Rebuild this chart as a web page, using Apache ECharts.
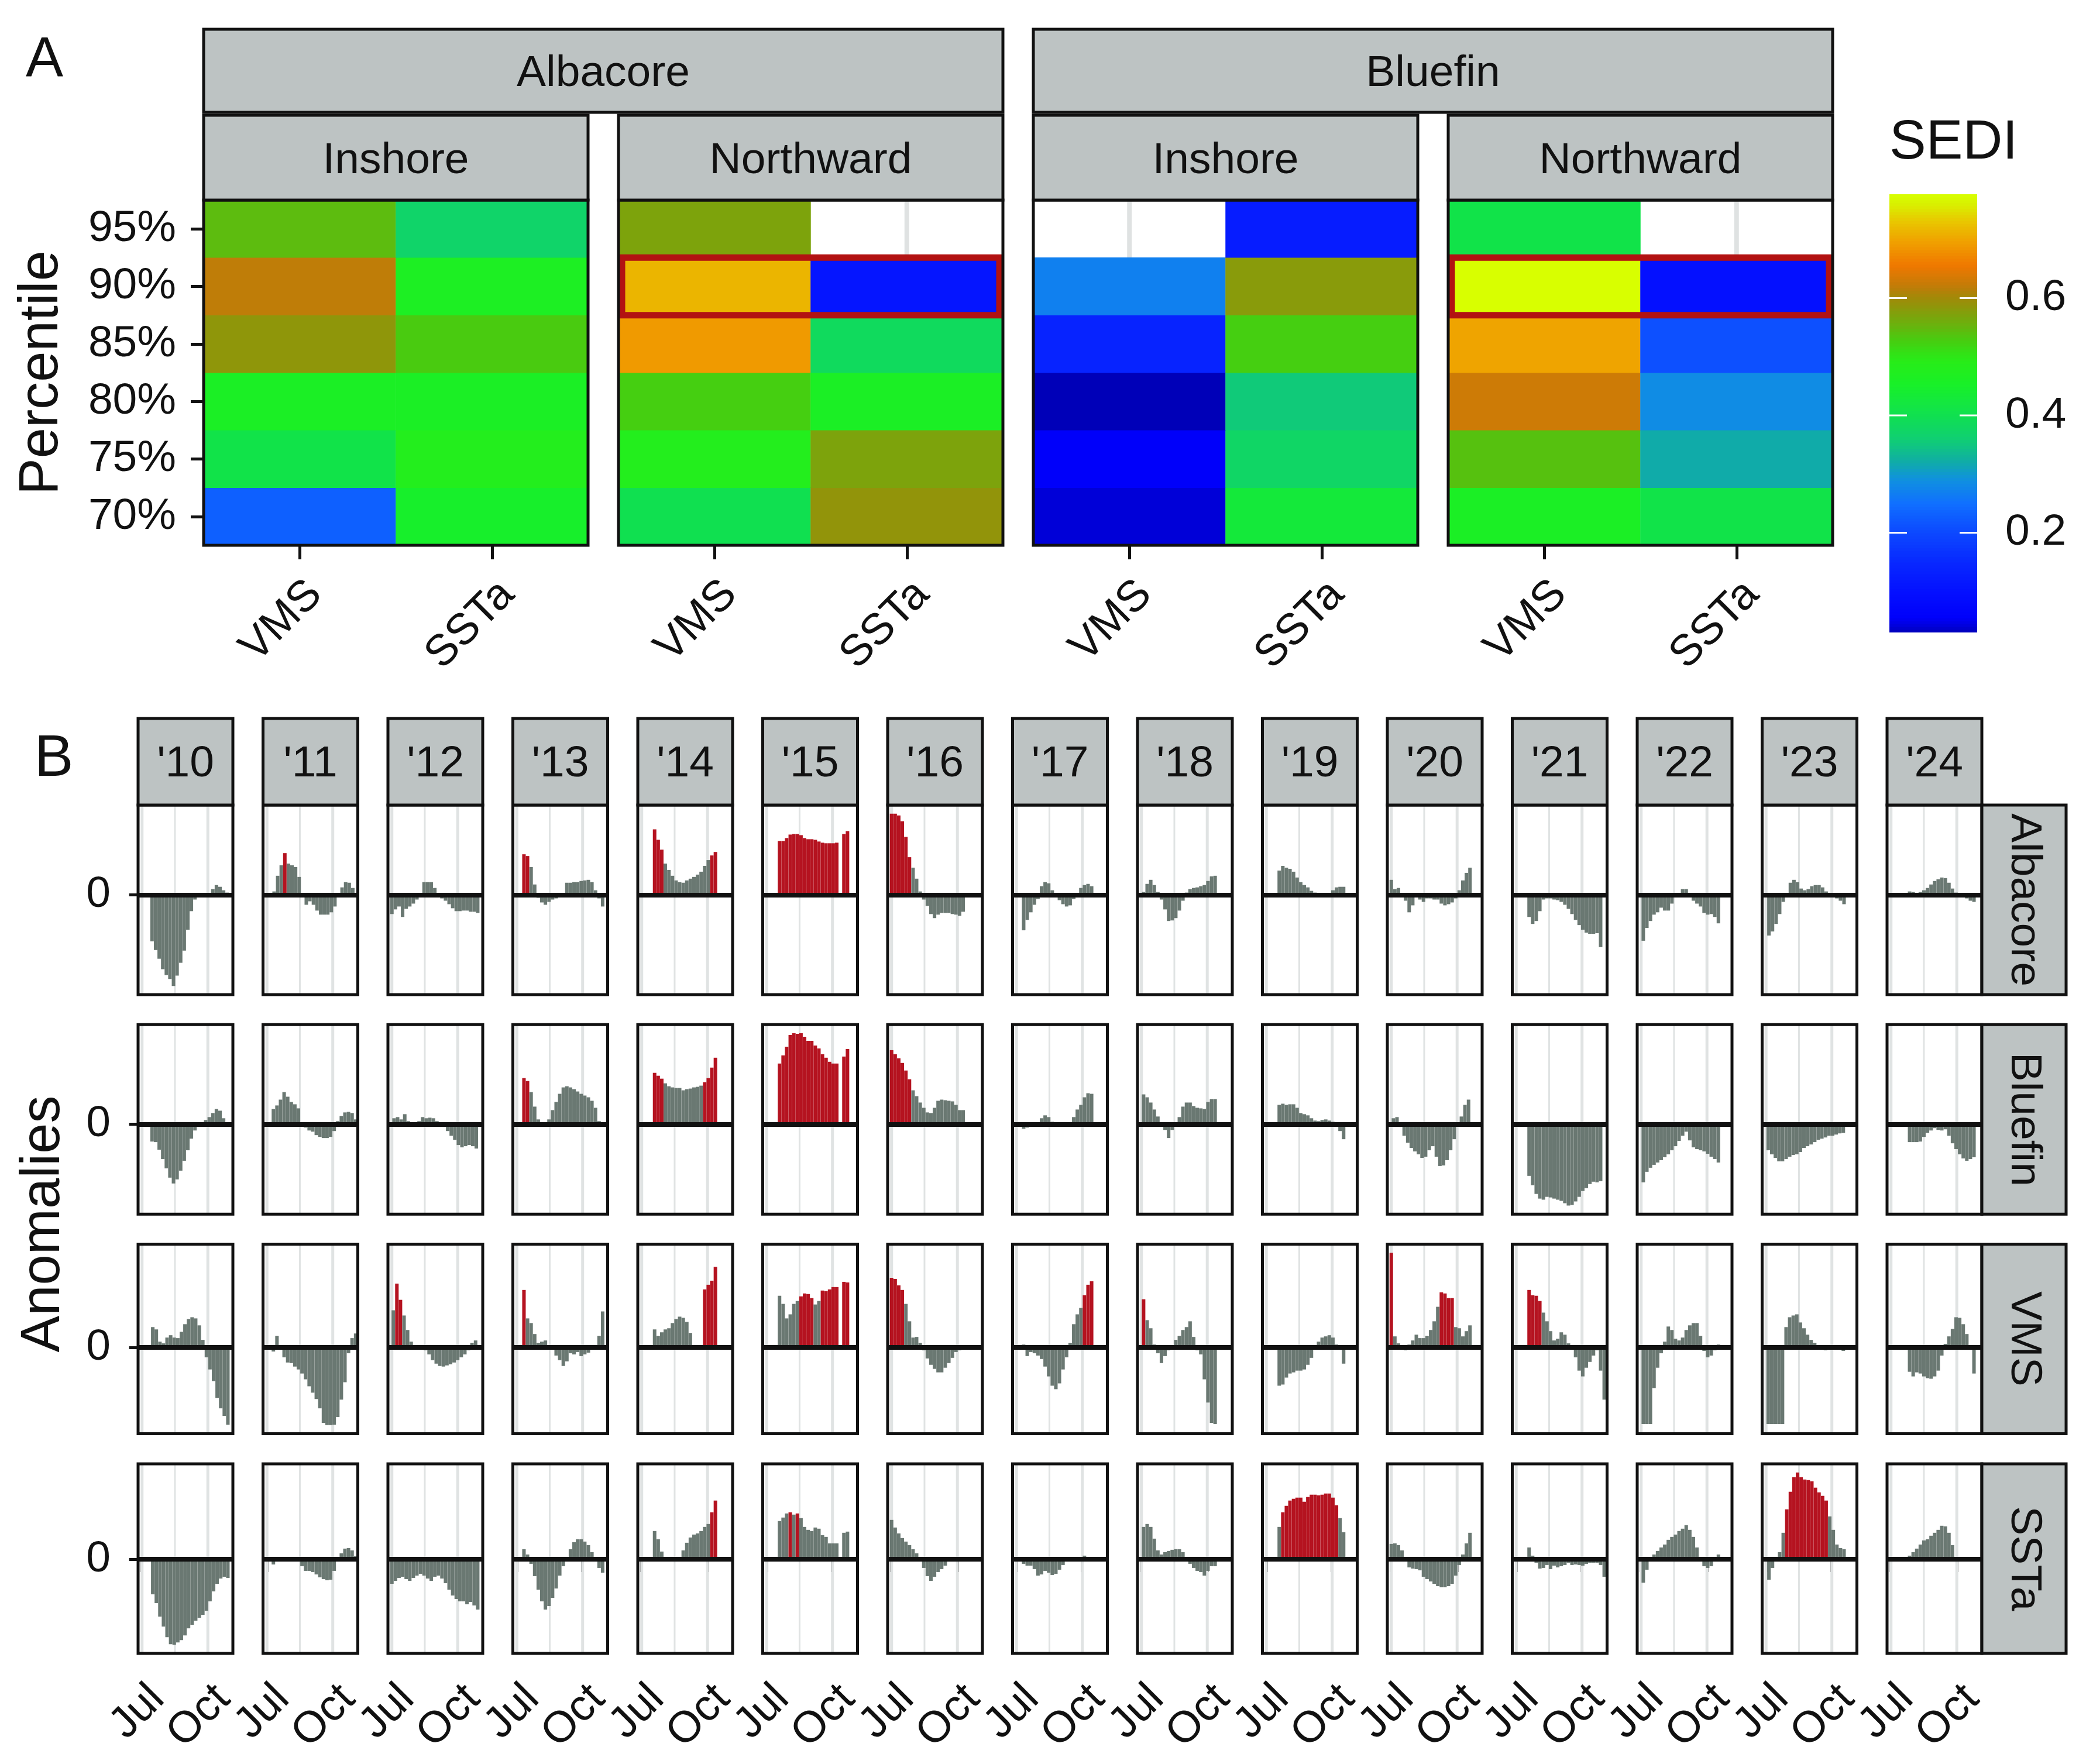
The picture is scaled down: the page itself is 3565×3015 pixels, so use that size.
<!DOCTYPE html>
<html><head><meta charset="utf-8">
<script src="https://cdn.jsdelivr.net/npm/echarts@6/dist/echarts.min.js"></script>
<style>html,body{margin:0;padding:0;background:#fff}#c{width:3565px;height:3015px}</style>
</head><body><div id="c"></div>
<script>
// ================= PANEL A DATA (SEDI) =================
const percentiles = ['70%','75%','80%','85%','90%','95%'];
const predictors = ['VMS','SSTa'];
const speciesNames = ['Albacore','Bluefin'];
const directionNames = ['Inshore','Northward'];
// values listed from 70% up to 95%; null = not available
const sediAlbInshoreVMS    = [0.23, 0.41, 0.46, 0.585, 0.62, 0.545];
const sediAlbInshoreSSTa   = [0.45, 0.48, 0.46, 0.53, 0.465, 0.37];
const sediAlbNorthVMS      = [0.40, 0.48, 0.525, 0.69, 0.715, 0.57];
const sediAlbNorthSSTa     = [0.588, 0.57, 0.46, 0.385, 0.11, null];
const sediBluInshoreVMS    = [0.04, 0.056, 0.03, 0.14, 0.27, null];
const sediBluInshoreSSTa   = [0.43, 0.375, 0.355, 0.525, 0.58, 0.125];
const sediBluNorthVMS      = [0.46, 0.54, 0.63, 0.70, 0.777, 0.41];
const sediBluNorthSSTa     = [0.41, 0.32, 0.285, 0.21, 0.10, null];
const highlightPercentile = '90%';
const highlightPanels = [1, 3];
const sediTicks = [0.2, 0.4, 0.6];
const sediMin = 0.03, sediMax = 0.777;

// ================= PANEL B DATA (anomalies, 5-day steps from start day; day 0 = Jul 1) =================
const years = ["'10","'11","'12","'13","'14","'15","'16","'17","'18","'19","'20","'21","'22","'23","'24"];
const rowNames = ['Albacore','Bluefin','VMS','SSTa'];
const dateTickDays = [0, 92];
const dateTickLabels = ['Jul','Oct'];
const gridMajorDays = [0, 92];
const gridMinorDays = [46];
const stepDays = 5;

const albacoreStart = [14,10,0,10,18,18,0,10,3,18,0,18,3,4,26];
const albacoreVals = [
 [-0.80,-0.95,-1.10,-1.28,-1.38,-1.45,-1.57,-1.39,-1.17,-0.96,-0.60,-0.28,-0.08,-0.03,-0.01,0.01,0.03,0.10,0.17,0.14,0.08,0.04],
 [0.06,0.33,0.51,0.72,0.54,0.51,0.48,0.31,0.01,-0.17,-0.11,-0.17,-0.27,-0.34,-0.34,-0.34,-0.30,-0.20,-0.04,0.13,0.22,0.21,0.12],
 [-0.33,-0.25,-0.20,-0.38,-0.24,-0.20,-0.15,-0.08,0.02,0.22,0.22,0.22,0.12,0.00,-0.06,-0.10,-0.16,-0.23,-0.28,-0.28,-0.27,-0.27,-0.29,-0.29,-0.31],
 [0.70,0.67,0.48,0.18,-0.05,-0.13,-0.17,-0.12,-0.08,-0.06,-0.04,0.01,0.21,0.21,0.22,0.22,0.24,0.25,0.26,0.22,0.08,-0.06,-0.20],
 [1.13,0.95,0.78,0.54,0.43,0.33,0.25,0.22,0.21,0.25,0.28,0.31,0.35,0.40,0.50,0.60,0.68,0.74],
 [0.93,0.93,0.98,1.04,1.05,1.05,1.03,0.98,0.96,0.96,0.95,0.92,0.90,0.89,0.89,0.89,0.90,null,1.05,1.10],
 [1.40,1.40,1.37,1.27,1.00,0.65,0.47,0.28,0.06,-0.08,-0.19,-0.33,-0.40,-0.34,-0.31,-0.31,-0.31,-0.33,-0.34,-0.36,-0.29],
 [-0.61,-0.43,-0.30,-0.17,-0.07,0.15,0.22,0.20,0.08,-0.02,-0.09,-0.16,-0.20,-0.18,-0.07,0.00,0.12,0.17,0.19,0.15],
 [0.05,0.19,0.26,0.17,0.05,-0.08,-0.25,-0.45,-0.44,-0.40,-0.27,-0.10,0.04,0.10,0.12,0.13,0.15,0.17,0.24,0.32,0.33],
 [0.42,0.50,0.47,0.45,0.40,0.30,0.22,0.17,0.13,0.07,0.04,0.02,0.01,0.00,0.03,0.08,0.13,0.14,0.14],
 [0.26,0.10,0.12,0.02,-0.10,-0.30,-0.18,-0.04,-0.08,-0.12,-0.06,-0.06,-0.08,-0.08,-0.15,-0.18,-0.16,-0.13,-0.06,0.08,0.25,0.38,0.47],
 [-0.38,-0.50,-0.45,-0.28,-0.08,-0.06,-0.06,-0.08,-0.09,-0.12,-0.17,-0.24,-0.33,-0.43,-0.52,-0.60,-0.65,-0.67,-0.67,-0.66,-0.90],
 [-0.79,-0.57,-0.45,-0.34,-0.30,-0.22,-0.27,-0.27,-0.15,-0.04,0.03,0.10,0.10,-0.02,-0.10,-0.15,-0.20,-0.31,-0.34,-0.33,-0.38,-0.49],
 [-0.70,-0.63,-0.50,-0.33,-0.12,0.03,0.21,0.26,0.22,0.11,0.08,0.10,0.15,0.17,0.17,0.13,0.06,0.00,-0.04,-0.06,-0.10,-0.16],
 [0.06,0.05,0.03,0.05,0.08,0.12,0.18,0.24,0.27,0.30,0.29,0.21,0.11,0.04,0.00,-0.02,-0.06,-0.10,-0.12]
];
const albacoreRed = [[],[3],[],[0,1],[0,1,2,16,17],[0,1,2,3,4,5,6,7,8,9,10,11,12,13,14,15,16,17,18,19],[0,1,2,3,4,5],[],[],[],[],[],[],[],[]];

const bluefinStart = [14,9,3,10,18,18,0,10,3,18,3,18,3,3,26];
const bluefinVals = [
 [-0.30,-0.31,-0.44,-0.60,-0.76,-0.92,-1.02,-0.95,-0.80,-0.63,-0.45,-0.25,-0.11,-0.02,0.02,0.07,0.12,0.19,0.26,0.23,0.10,0.02],
 [0.26,0.32,0.42,0.55,0.47,0.38,0.34,0.27,0.02,-0.06,-0.11,-0.13,-0.19,-0.22,-0.24,-0.24,-0.22,-0.12,0.05,0.14,0.20,0.21,0.19,0.08],
 [0.10,0.12,0.08,0.17,0.05,0.00,0.02,0.05,0.12,0.10,0.11,0.10,0.05,0.00,-0.05,-0.12,-0.20,-0.27,-0.36,-0.40,-0.38,-0.36,-0.38,-0.42],
 [0.79,0.74,0.55,0.30,0.08,0.00,0.02,0.08,0.24,0.38,0.52,0.63,0.65,0.63,0.60,0.56,0.52,0.49,0.46,0.40,0.28,0.05],
 [0.88,0.83,0.78,0.70,0.65,0.63,0.62,0.62,0.58,0.60,0.61,0.63,0.64,0.66,0.72,0.79,0.97,1.14],
 [1.04,1.18,1.33,1.53,1.56,1.55,1.56,1.50,1.43,1.43,1.35,1.30,1.20,1.14,1.07,1.04,1.04,null,1.16,1.29],
 [1.27,1.20,1.13,1.05,0.92,0.77,0.58,0.48,0.37,0.28,0.20,0.19,0.28,0.40,0.42,0.41,0.40,0.39,0.33,0.24,0.24],
 [-0.08,-0.06,-0.02,0.00,0.03,0.10,0.15,0.12,0.04,0.00,0.00,0.00,0.00,0.02,0.12,0.25,0.33,0.46,0.53,0.52],
 [0.51,0.46,0.37,0.25,0.13,0.02,-0.10,-0.24,-0.10,0.03,0.12,0.30,0.37,0.37,0.31,0.28,0.27,0.26,0.38,0.43,0.43],
 [0.33,0.35,0.33,0.34,0.34,0.28,0.19,0.17,0.15,0.10,0.06,0.05,0.07,0.08,0.06,0.04,-0.03,-0.12,-0.26],
 [0.10,0.12,-0.05,-0.20,-0.32,-0.41,-0.47,-0.52,-0.58,-0.56,-0.45,-0.38,-0.56,-0.72,-0.71,-0.62,-0.45,-0.26,-0.03,0.13,0.33,0.42],
 [-0.89,-1.05,-1.20,-1.28,-1.30,-1.25,-1.26,-1.28,-1.30,-1.32,-1.36,-1.40,-1.39,-1.33,-1.25,-1.15,-1.10,-1.03,-0.99,-1.00,-0.98],
 [-1.00,-0.82,-0.75,-0.70,-0.66,-0.62,-0.57,-0.52,-0.45,-0.38,-0.29,-0.20,-0.13,-0.28,-0.40,-0.43,-0.45,-0.47,-0.51,-0.56,-0.60,-0.66],
 [-0.45,-0.52,-0.58,-0.64,-0.64,-0.60,-0.56,-0.53,-0.52,-0.48,-0.41,-0.38,-0.35,-0.31,-0.27,-0.25,-0.23,-0.20,-0.20,-0.18,-0.16,-0.15],
 [-0.31,-0.31,-0.31,-0.30,-0.22,-0.15,-0.11,-0.07,-0.10,-0.11,-0.09,-0.20,-0.33,-0.43,-0.52,-0.59,-0.63,-0.60,-0.57]
];
const bluefinRed = [[],[],[],[0,1],[0,1,2,14,15,16,17],[0,1,2,3,4,5,6,7,8,9,10,11,12,13,14,15,16,17,18,19],[0,1,2,3,4,5],[],[],[],[],[],[],[],[]];

const vmsStart = [15,9,2,10,18,18,0,10,3,18,0,18,3,3,26];
const vmsVals = [
 [0.35,0.31,0.10,0.07,0.17,0.21,0.17,0.16,0.27,0.40,0.49,0.52,0.50,0.38,0.13,-0.17,-0.38,-0.58,-0.87,-1.05,-1.18,-1.33],
 [-0.07,0.20,-0.03,-0.17,-0.26,-0.27,-0.33,-0.38,-0.45,-0.55,-0.67,-0.78,-0.89,-1.05,-1.30,-1.34,-1.34,-1.33,-1.20,-0.90,-0.60,-0.10,0.16,0.24],
 [0.64,1.10,0.82,0.55,0.30,0.10,0.04,0.00,-0.02,-0.05,-0.12,-0.22,-0.28,-0.32,-0.33,-0.31,-0.29,-0.26,-0.22,-0.17,-0.12,-0.05,0.08,0.12],
 [0.99,0.50,0.42,0.23,0.08,0.10,0.12,0.02,-0.04,-0.14,-0.22,-0.32,-0.24,-0.10,-0.12,-0.08,-0.15,-0.12,-0.09,-0.04,0.00,0.20,0.62],
 [0.31,0.20,0.26,0.31,0.33,0.42,0.49,0.53,0.51,0.44,0.25,0.02,0.00,0.01,1.00,1.08,1.15,1.39],
 [0.89,0.75,0.50,0.57,0.75,0.80,0.88,0.93,0.92,0.85,0.74,0.80,0.98,0.97,1.00,1.04,1.04,null,1.13,1.12],
 [1.20,1.18,1.07,0.99,0.75,0.45,0.17,0.18,0.08,-0.05,-0.19,-0.30,-0.37,-0.43,-0.43,-0.35,-0.27,-0.18,-0.08,-0.05,0.02],
 [0.05,-0.15,-0.08,-0.10,-0.14,-0.20,-0.33,-0.50,-0.66,-0.72,-0.62,-0.38,-0.17,0.08,0.40,0.57,0.68,0.90,1.08,1.14],
 [0.83,0.47,0.33,0.05,-0.10,-0.27,-0.15,-0.05,0.04,0.13,0.20,0.30,0.35,0.45,0.18,-0.05,-0.12,-0.55,-0.95,-1.30,-1.32],
 [-0.66,-0.64,-0.52,-0.45,-0.43,-0.40,-0.40,-0.38,-0.30,-0.18,-0.03,0.10,0.17,0.19,0.21,0.17,0.05,0.02,-0.28],
 [1.63,0.19,0.07,0.04,-0.05,0.05,0.12,0.22,0.16,0.16,0.20,0.30,0.45,0.70,0.95,0.93,0.85,0.85,0.35,0.33,0.19,0.28,0.38],
 [0.99,0.90,0.89,0.80,0.60,0.45,0.28,0.12,0.15,0.26,0.22,0.07,-0.03,-0.17,-0.40,-0.50,-0.35,-0.25,-0.14,-0.05,-0.40,-0.90],
 [-1.32,-1.32,-1.32,-0.70,-0.35,-0.10,0.10,0.36,0.30,0.15,0.12,0.17,0.30,0.38,0.42,0.42,0.20,-0.06,-0.17,-0.14,-0.05,0.05],
 [-1.32,-1.32,-1.32,-1.32,-1.32,0.35,0.52,0.55,0.57,0.43,0.33,0.22,0.13,0.08,0.03,0.00,-0.05,-0.04,0.03,0.04,-0.02,-0.06],
 [-0.42,-0.50,-0.43,-0.45,-0.50,-0.53,-0.54,-0.50,-0.40,-0.14,0.06,0.19,0.32,0.52,0.51,0.40,0.23,0.02,-0.45]
];
const vmsRed = [[],[],[1,2],[0],[14,15,16,17],[6,7,8,9,12,13,14,15,16,18,19],[0,1,2,3],[17,18,19],[0],[],[0,14,15,16,17],[0,1,2,3],[],[],[]];

const sstaStart = [15,9,0,10,18,18,0,10,3,18,0,18,3,4,26];
const sstaVals = [
 [-0.60,-0.75,-0.98,-1.15,-1.33,-1.45,-1.46,-1.42,-1.38,-1.30,-1.18,-1.12,-1.05,-1.00,-0.95,-0.88,-0.72,-0.55,-0.42,-0.33,-0.30,-0.32],
 [-0.09,-0.04,-0.02,-0.01,-0.01,-0.01,-0.01,-0.03,-0.12,-0.20,-0.20,-0.22,-0.26,-0.31,-0.34,-0.36,-0.35,-0.20,-0.03,0.10,0.18,0.19,0.15,0.05],
 [-0.42,-0.37,-0.32,-0.30,-0.34,-0.37,-0.32,-0.28,-0.25,-0.28,-0.33,-0.37,-0.30,-0.28,-0.33,-0.41,-0.52,-0.62,-0.68,-0.72,-0.72,-0.77,-0.73,-0.79,-0.86],
 [0.17,0.08,-0.08,-0.29,-0.52,-0.72,-0.86,-0.80,-0.66,-0.50,-0.28,-0.12,0.03,0.17,0.29,0.34,0.34,0.30,0.24,0.12,-0.02,-0.15,-0.23],
 [0.48,0.34,0.13,-0.04,-0.04,0.00,0.01,0.01,0.15,0.28,0.37,0.42,0.44,0.48,0.55,0.60,0.80,1.00],
 [0.65,0.71,0.78,0.80,0.76,0.78,0.70,0.55,0.50,0.48,0.54,0.52,0.41,0.38,0.27,0.27,0.27,null,0.45,0.47],
 [0.67,0.54,0.44,0.36,0.30,0.24,0.17,0.10,0.02,-0.15,-0.29,-0.37,-0.30,-0.22,-0.17,-0.11,-0.04,-0.01,0.03],
 [-0.08,-0.11,-0.11,-0.17,-0.28,-0.26,-0.20,-0.23,-0.27,-0.25,-0.18,-0.10,-0.04,-0.01,0.00,0.00,0.00,0.06,0.03],
 [0.55,0.60,0.55,0.35,0.15,0.08,0.12,0.14,0.16,0.17,0.17,0.12,0.03,-0.08,-0.15,-0.20,-0.22,-0.28,-0.20,-0.12,-0.12],
 [0.55,0.80,0.91,1.00,1.03,1.05,1.05,0.98,1.06,1.10,1.10,1.09,1.10,1.12,1.12,1.05,0.92,0.70,0.46],
 [0.26,0.27,0.24,0.15,0.00,-0.14,-0.16,-0.17,-0.19,-0.30,-0.34,-0.38,-0.42,-0.46,-0.48,-0.48,-0.46,-0.42,-0.28,-0.10,0.08,0.27,0.45],
 [0.20,0.06,-0.06,-0.16,-0.15,-0.10,-0.17,-0.11,-0.14,-0.12,-0.10,-0.06,-0.10,-0.09,-0.10,-0.11,-0.08,-0.06,-0.06,-0.06,-0.10,-0.30],
 [-0.40,-0.18,-0.02,0.08,0.14,0.20,0.25,0.33,0.38,0.42,0.48,0.52,0.58,0.50,0.38,0.20,-0.02,-0.12,-0.15,-0.12,0.00,0.08],
 [-0.35,-0.15,0.00,0.12,0.45,0.85,1.15,1.40,1.48,1.40,1.36,1.35,1.33,1.22,1.14,1.08,1.00,0.73,0.50,0.25,0.19,0.17],
 [0.06,0.12,0.18,0.25,0.32,0.34,0.40,0.45,0.50,0.57,0.56,0.45,0.24,0.03]
];
const sstaRed = [[],[],[],[],[16,17],[3,5],[],[],[],[1,2,3,4,5,6,7,8,9,10,11,12,13,14,15,16],[],[],[],[5,6,7,8,9,10,11,12,13,14,15,16],[]];

// ================= STYLE / LAYOUT =================
const FONT = '"Liberation Sans", Arial, Helvetica, sans-serif';
const INK = '#111';
const STRIP_FILL = '#bdc3c3';
const GRAY_BAR = '#6a7872';
const RED_BAR = '#b51320';
const colourStops = [
 [0.030,'#0000b8'],[0.040,'#0000d8'],[0.055,'#0000fa'],[0.100,'#0410ff'],[0.150,'#0828ff'],
 [0.200,'#0c48ff'],[0.250,'#1070ff'],[0.290,'#1090e0'],[0.325,'#10b0a0'],[0.362,'#10d070'],
 [0.400,'#10e050'],[0.453,'#18f028'],[0.494,'#28ec18'],[0.529,'#48cc10'],[0.569,'#7ca40c'],
 [0.600,'#a08a08'],[0.620,'#c07c08'],[0.656,'#f07800'],[0.696,'#f0a000'],[0.732,'#e8c800'],
 [0.760,'#d8f000'],[0.777,'#d8ff00']
];
function hex2rgb(h){return [parseInt(h.slice(1,3),16),parseInt(h.slice(3,5),16),parseInt(h.slice(5,7),16)];}
function rampAt(v){
  for(let i=0;i<colourStops.length-1;i++){
    const [a,ca]=colourStops[i],[b,cb]=colourStops[i+1];
    if(v<=b){const t=Math.max(0,(v-a)/(b-a));const A=hex2rgb(ca),B=hex2rgb(cb);
      return 'rgb('+A.map((x,k)=>Math.round(x+(B[k]-x)*t)).join(',')+')';}
  }
  return colourStops[colourStops.length-1][1];
}
const rampColours=[];
for(let i=0;i<=150;i++){rampColours.push(rampAt(sediMin+(sediMax-sediMin)*i/150));}

const grids=[], xAxes=[], yAxes=[], series=[], graphics=[];
const visualSeries=[];

function frameSeries(g){
  return {type:'custom', xAxisIndex:g, yAxisIndex:g, silent:true, z:10, data:[[0,0]],
    renderItem:(params)=>{const cs=params.coordSys;return {type:'rect',shape:{x:cs.x,y:cs.y,width:cs.width,height:cs.height},style:{fill:'none',stroke:INK,lineWidth:5}};}};
}
function textEl(text,x,y,size,rot,align){
  return {type:'text', x:x, y:y, rotation:rot||0, z:60,
    style:{text:text, fill:INK, font:size+'px '+FONT, fontSize:size, fontFamily:FONT, align:align||'center', verticalAlign:'middle', textAlign:align||'center', textVerticalAlign:'middle'}};
}
function stripEl(x,y,w,h){
  return {type:'rect', z:55, shape:{x:x,y:y,width:w,height:h}, style:{fill:STRIP_FILL, stroke:INK, lineWidth:5}};
}

// ---------- Panel A ----------
const heatPanels = [
  {vms:sediAlbInshoreVMS, ssta:sediAlbInshoreSSTa},
  {vms:sediAlbNorthVMS, ssta:sediAlbNorthSSTa},
  {vms:sediBluInshoreVMS, ssta:sediBluInshoreSSTa},
  {vms:sediBluNorthVMS, ssta:sediBluNorthSSTa}
];
const A_LEFT=[348,1057,1766,2475], A_TOP=342, A_W=657, A_H=590;
heatPanels.forEach((p,i)=>{
  const g=grids.length;
  grids.push({left:A_LEFT[i], top:A_TOP, width:A_W, height:A_H});
  xAxes.push({type:'category', gridIndex:g, data:predictors, axisLine:{show:false}, splitLine:{show:false},
    axisTick:{show:true, alignWithLabel:true, length:24, lineStyle:{color:INK,width:5}},
    axisLabel:{rotate:45, align:'right', verticalAlign:'top', margin:46, fontSize:75, color:INK, fontFamily:FONT}});
  yAxes.push({type:'category', gridIndex:g, data:percentiles, axisLine:{show:false}, splitLine:{show:false},
    axisTick:{show:i===0, alignWithLabel:true, length:22, lineStyle:{color:INK,width:5}},
    axisLabel:{show:i===0, margin:47, fontSize:75, color:INK, fontFamily:FONT}});
  series.push({type:'custom', xAxisIndex:g, yAxisIndex:g, silent:true, z:1, data:predictors.map((_,k)=>[k,0]),
    renderItem:(params,api)=>{const x=api.coord([api.value(0),0])[0];const cs=params.coordSys;
      return {type:'line',shape:{x1:x,y1:cs.y,x2:x,y2:cs.y+cs.height},style:{stroke:'#dfe2e2',lineWidth:8}};}});
  const cells=[];
  percentiles.forEach((pc,r)=>{[p.vms,p.ssta].forEach((arr,k)=>{if(arr[r]!==null&&arr[r]!==undefined)cells.push([k,r,arr[r]]);});});
  visualSeries.push(series.length);
  series.push({type:'heatmap', xAxisIndex:g, yAxisIndex:g, data:cells, silent:true, z:2, itemStyle:{borderWidth:0}, emphasis:{disabled:true}});
  if(highlightPanels.includes(i)){
    const hr=percentiles.indexOf(highlightPercentile);
    series.push({type:'custom', xAxisIndex:g, yAxisIndex:g, silent:true, z:8, data:[[0,hr]],
      renderItem:(params,api)=>{const a=api.coord([0,api.value(1)]);const b=api.coord([predictors.length-1,api.value(1)]);
        const s=api.size([1,1]);
        return {type:'rect',shape:{x:a[0]-s[0]/2+6,y:a[1]-s[1]/2,width:b[0]-a[0]+s[0]-12,height:s[1]},
          style:{fill:'none',stroke:'#b21212',lineWidth:11}};}});
  }
  series.push(frameSeries(g));
});
// strips panel A
speciesNames.forEach((s,k)=>{
  const x0=A_LEFT[2*k], x1=A_LEFT[2*k+1]+A_W;
  graphics.push(stripEl(x0,50,x1-x0,142));
  graphics.push(textEl(s,(x0+x1)/2,126,75));
  directionNames.forEach((d,j)=>{
    const xl=A_LEFT[2*k+j];
    graphics.push(stripEl(xl,197,A_W,145));
    graphics.push(textEl(d,xl+A_W/2,275,75));
  });
});
// colourbar
{
  const g=grids.length;
  grids.push({left:3229, top:332, width:150, height:749});
  xAxes.push({type:'value', gridIndex:g, min:0, max:1, show:false});
  yAxes.push({type:'value', gridIndex:g, min:sediMin, max:sediMax, position:'right', axisLine:{show:false}, splitLine:{show:false},
    axisTick:{show:false}, axisLabel:{customValues:sediTicks, formatter:v=>v.toFixed(1), margin:48, fontSize:75, color:INK, fontFamily:FONT}});
  const steps=[]; const n=150; const h=(sediMax-sediMin)/n;
  for(let i=0;i<n;i++){const v=sediMin+h*(i+0.5);steps.push([0.5,v,v]);}
  visualSeries.push(series.length);
  series.push({type:'custom', xAxisIndex:g, yAxisIndex:g, silent:true, z:2, data:steps,
    renderItem:(params,api)=>{const cs=params.coordSys;const v=api.value(1);
      let y1=api.coord([0,v+h/2])[1], y2=api.coord([0,v-h/2])[1];
      y1=Math.max(cs.y,y1-0.6); y2=Math.min(cs.y+cs.height,y2+0.6);
      return {type:'rect',shape:{x:cs.x,y:y1,width:cs.width,height:y2-y1},style:{fill:api.visual('color')}};}});
  series.push({type:'custom', xAxisIndex:g, yAxisIndex:g, silent:true, z:5, data:sediTicks.map(v=>[0,v]),
    renderItem:(params,api)=>{const cs=params.coordSys;const y=api.coord([0,api.value(1)])[1];
      return {type:'group',children:[
        {type:'line',shape:{x1:cs.x,y1:y,x2:cs.x+30,y2:y},style:{stroke:'#fff',lineWidth:3}},
        {type:'line',shape:{x1:cs.x+cs.width-30,y1:y,x2:cs.x+cs.width,y2:y},style:{stroke:'#fff',lineWidth:3}}]};}});
}
graphics.push(textEl('SEDI',3229,245,94,0,'left'));
graphics.push(textEl('A',76,104,96));
graphics.push(textEl('Percentile',72,637,94,Math.PI/2));

// ---------- Panel B ----------
const rows=[
  {start:albacoreStart, vals:albacoreVals, red:albacoreRed},
  {start:bluefinStart, vals:bluefinVals, red:bluefinRed},
  {start:vmsStart, vals:vmsVals, red:vmsRed},
  {start:sstaStart, vals:sstaVals, red:sstaRed}
];
const B_LEFT0=236, B_STEPX=213.5, B_W=162, B_TOP0=1376, B_STEPY=375.3, B_H=324;
const X_MIN=-5.5, X_MAX=127;
rows.forEach((row,r)=>{
  let lo=Infinity, hi=-Infinity;
  row.vals.forEach(a=>a.forEach(v=>{if(v!==null){lo=Math.min(lo,v);hi=Math.max(hi,v);}}));
  const pad=(hi-lo)*0.05; const yMin=lo-pad, yMax=hi+pad;
  years.forEach((yr,c)=>{
    const g=grids.length;
    const left=B_LEFT0+B_STEPX*c, top=B_TOP0+B_STEPY*r;
    grids.push({left:left, top:top, width:B_W, height:B_H});
    const bottom=(r===rows.length-1);
    xAxes.push({type:'value', gridIndex:g, min:X_MIN, max:X_MAX, axisLine:{show:false}, splitLine:{show:false},
      axisTick:{show:bottom, customValues:dateTickDays, length:22, lineStyle:{color:INK,width:5}},
      axisLabel:{show:bottom, customValues:dateTickDays, formatter:v=>dateTickLabels[dateTickDays.indexOf(v)]||'',
        rotate:45, align:'right', verticalAlign:'top', margin:40, fontSize:75, color:INK, fontFamily:FONT}});
    yAxes.push({type:'value', gridIndex:g, min:yMin, max:yMax, axisLine:{show:false}, splitLine:{show:false},
      axisTick:{show:c===0, customValues:[0], length:22, lineStyle:{color:INK,width:5}},
      axisLabel:{show:c===0, customValues:[0], formatter:v=>String(Math.round(v)), margin:47, fontSize:75, color:INK, fontFamily:FONT}});
    // grid lines
    const gl=gridMajorDays.map(d=>[d,0,5]).concat(gridMinorDays.map(d=>[d,0,3]));
    series.push({type:'custom', xAxisIndex:g, yAxisIndex:g, silent:true, z:1, data:gl,
      renderItem:(params,api)=>{const x=api.coord([api.value(0),0])[0];const cs=params.coordSys;
        return {type:'line',shape:{x1:x,y1:cs.y,x2:x,y2:cs.y+cs.height},style:{stroke:'#e0e3e3',lineWidth:api.value(2)}};}});
    // bars
    const items=[];
    const vals=row.vals[c], s=row.start[c], red=row.red[c];
    vals.forEach((v,k)=>{
      if(v===null) return;
      const d=s+k*stepDays;
      items.push({value:[d,v], itemStyle:{color: red.includes(k)?RED_BAR:GRAY_BAR}});
    });
    series.push({type:'bar', xAxisIndex:g, yAxisIndex:g, silent:true, z:2, barWidth:6.0, data:items,
      markLine:{silent:true, symbol:['none','none'], label:{show:false}, animation:false,
        lineStyle:{color:INK,width:8,type:'solid'}, emphasis:{disabled:true}, data:[{yAxis:0}]}});
    series.push(frameSeries(g));
    if(r===0){
      graphics.push(stripEl(left,1228,B_W,148));
      graphics.push(textEl(yr,left+B_W/2,1306,75));
    }
  });
  const sx=B_LEFT0+B_STEPX*(years.length-1)+B_W;
  const top=B_TOP0+B_STEPY*r;
  graphics.push(stripEl(sx,top,144,B_H));
  graphics.push(textEl(rowNames[r],sx+72,top+B_H/2,75,-Math.PI/2));
});
graphics.push(textEl('B',92,1298,100));
graphics.push(textEl('Anomalies',75,2092,94,Math.PI/2));

const chart=echarts.init(document.getElementById('c'),null,{renderer:'canvas',width:3565,height:3015});
chart.setOption({
  animation:false,
  backgroundColor:'#ffffff',
  textStyle:{fontFamily:FONT},
  grid:grids, xAxis:xAxes, yAxis:yAxes, series:series, graphic:graphics,
  visualMap:[{type:'continuous', show:false, min:sediMin, max:sediMax, dimension:2, seriesIndex:visualSeries,
    inRange:{color:rampColours}}]
});
</script></body></html>
